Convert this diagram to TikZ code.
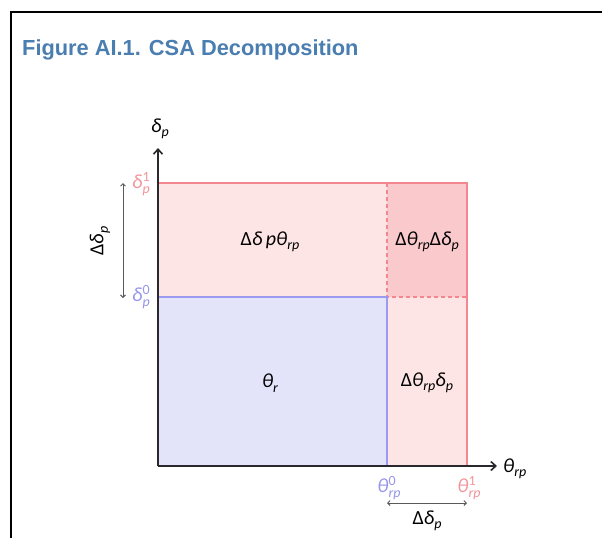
\documentclass[tikz,border=0pt]{standalone}
\usepackage{fontspec}
\usetikzlibrary{arrows.meta}
\newfontfamily\titlefont{Liberation Sans}
\newfontfamily\symfont{Carlito}
\definecolor{titleblue}{RGB}{74,126,176}
\definecolor{pinkfill}{RGB}{253,228,229}
\definecolor{darkpink}{RGB}{249,201,204}
\definecolor{bluefill}{RGB}{227,227,250}
\definecolor{pinkedge}{RGB}{243,134,143}
\definecolor{blueedge}{RGB}{154,154,240}
\definecolor{pinktext}{RGB}{242,149,155}
\definecolor{bluetext}{RGB}{150,150,235}
\definecolor{axisgray}{RGB}{40,40,45}
\definecolor{arrgray}{RGB}{90,90,90}
\newcommand\lowr[1]{\raisebox{-4.5pt}{\fontsize{14}{14}\selectfont\itshape #1}}
\newcommand\highr[1]{\raisebox{7pt}{\fontsize{14}{14}\selectfont #1}}
\newcommand\symsub[2]{\textit{#1}\lowr{#2}}
\newcommand\symss[3]{\textit{#1}\rlap{\highr{#3}}\lowr{#2}}
\tikzset{
  lbl/.style={font=\symfont\fontsize{20}{23}\selectfont, inner sep=0pt},
  tick/.style={font=\symfont\fontsize{20}{23}\selectfont, inner sep=0pt},
  axisline/.style={draw=axisgray, line width=1.6pt, -{Straight Barb[length=5pt,width=9pt]}},
  dimarrow/.style={draw=arrgray, line width=0.9pt, {Straight Barb[length=2.5pt,width=5pt]}-{Straight Barb[length=2.5pt,width=5pt]}},
  frameline/.style={draw=black, line width=2.2pt},
}
\begin{document}
\begin{tikzpicture}[x=1pt,y=-1pt]
\useasboundingbox (0,0) rectangle (602,538);
% frame
\coordinate (fbl) at (11,538);
\coordinate (ftl) at (11,12);
\coordinate (ftr) at (602,12);
\draw[frameline] (fbl) -- (ftl) -- (ftr);
\node[anchor=base west, inner sep=0pt, text=titleblue, font=\titlefont\bfseries\fontsize{21.8}{26}\selectfont] (title) at (22,55) {Figure AI.1. CSA Decomposition};
% key points
\coordinate (O) at (158,466);
\coordinate (d1) at (158,183);
\coordinate (d0) at (158,297);
\coordinate (t0) at (387,466);
\coordinate (t1) at (467,466);
\coordinate (c00) at (387,297);
\coordinate (c01) at (387,183);
\coordinate (c10) at (467,297);
\coordinate (c11) at (467,183);
% regions
\fill[pinkfill] (d1) rectangle (t1);
\fill[darkpink] (c01) rectangle (c10);
\fill[bluefill] (d0) rectangle (t0);
\draw[pinkedge, line width=1.3pt, dash pattern=on 4pt off 3pt] (c01) -- (c00) -- (c10);
\draw[pinkedge, line width=1.5pt] (d1) -- (c11) -- (t1);
\draw[blueedge, line width=1.5pt] (d0) -- (c00) -- (t0);
% axes
\coordinate (xend) at (497,466);
\coordinate (yend) at (158,148);
\draw[axisline] (O) -- (xend);
\draw[axisline] (O) -- (yend);
\node[lbl, anchor=west] (xlab) at (503,469) {\symsub{θ}{rp}};
\node[lbl] (ylab) at (160,129) {\symsub{δ}{p}};
% region labels
\node[lbl] (A) at (270,242) {Δ\textit{δ}\,\textit{p}\symsub{θ}{rp}};
\node[lbl] (B) at (427,242) {Δ\symsub{θ}{rp}Δ\symsub{δ}{p}};
\node[lbl] (C) at (270,383) {\symsub{θ}{r}};
\node[lbl] (D) at (427,383) {Δ\symsub{θ}{rp}\symsub{δ}{p}};
% y ticks
\node[tick, text=pinktext] (dp1) at (141,184) {\symss{δ}{p}{1}};
\node[tick, text=bluetext] (dp0) at (141,297) {\symss{δ}{p}{0}};
\coordinate (ya) at (123,183);
\coordinate (yb) at (123,298);
\draw[dimarrow] (ya) -- (yb);
\node[lbl, rotate=90] (ddp) at (100,241) {Δ\symsub{δ}{p}};
% x ticks
\node[tick, text=bluetext] (tr0) at (389,488) {\symss{θ}{rp}{0}};
\node[tick, text=pinktext] (tr1) at (469,488) {\symss{θ}{rp}{1}};
\coordinate (xa) at (387,503);
\coordinate (xb) at (467,503);
\draw[dimarrow] (xa) -- (xb);
\node[lbl] (ddx) at (427,521) {Δ\symsub{δ}{p}};
\end{tikzpicture}
\end{document}
